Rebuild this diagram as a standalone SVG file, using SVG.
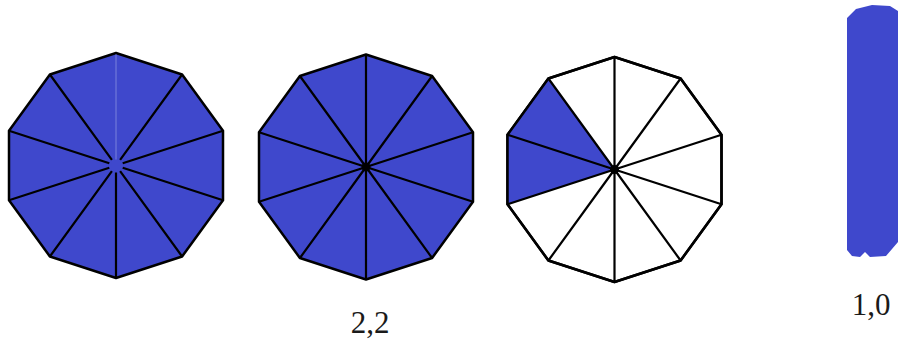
<svg xmlns="http://www.w3.org/2000/svg" xmlns:xlink="http://www.w3.org/1999/xlink" width="898" height="345" viewBox="0 0 898 345">
  <style>
    .edge { stroke: #000; stroke-width: 2.5; stroke-linejoin: round; }
    .spoke { stroke: #000; stroke-width: 2.2; fill: none; }
    .blue { fill: #3F48CC; }
    .white { fill: #FFFFFF; }
    .lbl { font-family: "Liberation Serif", "DejaVu Serif", serif; font-size: 31px; fill: #1a1a1a; text-anchor: middle; }
  </style>
  <defs>
    <polygon id="deca" points="0,-112.5 66.1,-91 107,-34.8 107,34.8 66.1,91 0,112.5 -66.1,91 -107,34.8 -107,-34.8 -66.1,-91"/>
    <path id="spokesFull" d="M0,0 L0,-112.5 M0,0 L66.1,-91 M0,0 L107,-34.8 M0,0 L107,34.8 M0,0 L66.1,91 M0,0 L0,112.5 M0,0 L-66.1,91 M0,0 L-107,34.8 M0,0 L-107,-34.8 M0,0 L-66.1,-91"/>
  </defs>
  <rect width="898" height="345" fill="#FFFFFF"/>

  <g id="decagon-full-1" transform="translate(116,165.5)">
    <use xlink:href="#deca" class="blue edge"/>
    <path class="spoke" d="M4.1,-5.7 L66.1,-91 M6.7,-2.2 L107,-34.8 M6.7,2.2 L107,34.8 M4.1,5.7 L66.1,91 M0,7 L0,112.5 M-4.1,5.7 L-66.1,91 M-6.7,2.2 L-107,34.8 M-6.7,-2.2 L-107,-34.8 M-4.1,-5.7 L-66.1,-91"/>
    <path d="M0,-111 L0,-6" stroke="#7a81dc" stroke-width="1" fill="none"/>
  </g>

  <g id="decagon-full-2" transform="translate(366,167)">
    <use xlink:href="#deca" class="blue edge"/>
    <use xlink:href="#spokesFull" class="spoke"/>
    <circle r="4.5" fill="#000"/>
  </g>

  <g id="decagon-partial" transform="translate(614.5,169.5)">
    <use xlink:href="#deca" class="white edge"/>
    <polygon class="blue" points="0,0 -66.1,-91 -107,-34.8 -107,34.8"/>
    <use xlink:href="#spokesFull" class="spoke"/>
    <use xlink:href="#deca" class="edge" fill="none"/>
    <circle r="4.5" fill="#000"/>
  </g>

  <g id="bar">
    <path class="blue" d="M847,18 L856,9 L872,5 L890,6 L898,11 L898,242 L886,256 L870,257 L865,252 L860,257 L852,256 L847,250 Z"/>
  </g>

  <g id="labels">
    <text class="lbl" x="370" y="333">2,2</text>
    <text class="lbl" x="871" y="315">1,0</text>
  </g>
</svg>
